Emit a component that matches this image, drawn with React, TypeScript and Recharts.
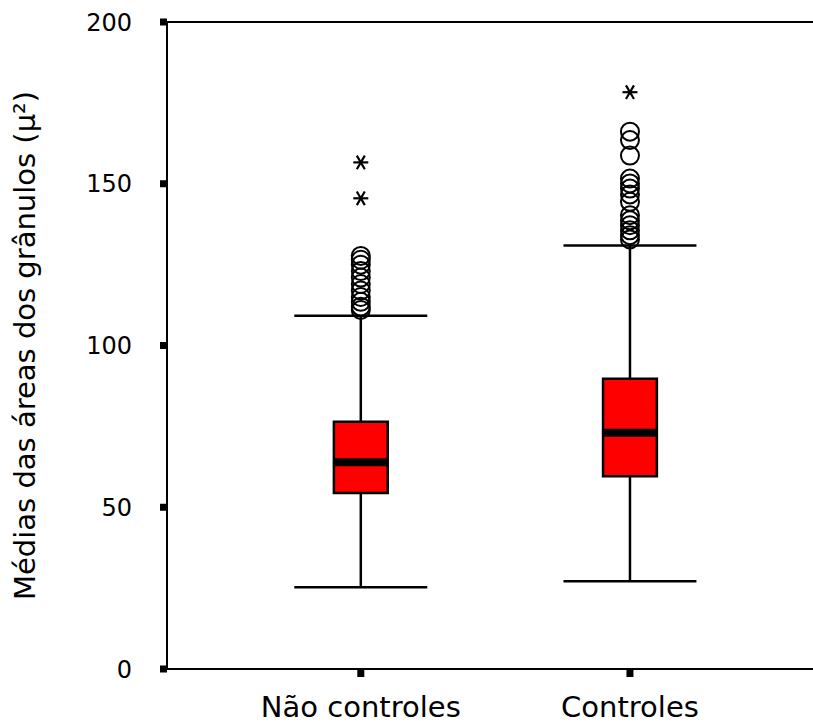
import {
  ComposedChart,
  ReferenceArea,
  ReferenceLine,
  Scatter,
  XAxis,
  YAxis,
} from "recharts";

const categories = ["Não controles", "Controles"];
const positions = [1, 2];
const lowerWhisker = [25.3, 27.1];
const q1 = [54.4, 59.6];
const median = [63.9, 73.0];
const q3 = [76.4, 89.7];
const upperWhisker = [109.2, 130.9];
const outliersNao = [111, 112, 113.5, 115, 117, 119, 121, 123, 125, 126.5, 127.7];
const extremesNao = [145.5, 156.6];
const outliersCtrl = [132.8, 134.1, 135.6, 137.2, 138.7, 140.3, 144.4, 146.7, 148.5, 150.1, 151.6, 158.7, 163.5, 166.1];
const extremesCtrl = [178.3];
const yTicks = [0, 50, 100, 150, 200];

const FONT = "'DejaVu Sans', Verdana, sans-serif";
const BOX_HALF = 0.1;
const CAP_HALF = 0.247;

const circlePoints = [
  ...outliersNao.map((y) => ({ x: positions[0], y })),
  ...outliersCtrl.map((y) => ({ x: positions[1], y })),
];
const starPoints = [
  ...extremesNao.map((y) => ({ x: positions[0], y })),
  ...extremesCtrl.map((y) => ({ x: positions[1], y })),
];

const OpenCircle = (p: any) => (
  <circle cx={p.cx} cy={p.cy} r={9} fill="none" stroke="#000" strokeWidth={2} />
);

const Star = (p: any) => (
  <g stroke="#000" strokeWidth={2.2}>
    <line x1={p.cx - 7.5} y1={p.cy} x2={p.cx + 7.5} y2={p.cy} />
    <line x1={p.cx - 4} y1={p.cy - 6.8} x2={p.cx + 4} y2={p.cy + 6.8} />
    <line x1={p.cx + 4} y1={p.cy - 6.8} x2={p.cx - 4} y2={p.cy + 6.8} />
  </g>
);

const YTick = ({ x, y, payload }: any) => (
  <g>
    <rect x={x + 28} y={y - 3.5} width={7} height={7} fill="#000" />
    <text x={x} y={y + 8.5} textAnchor="end" fontSize={24} fontFamily={FONT} fill="#000">
      {payload.value}
    </text>
  </g>
);

const XTick = ({ x, y, payload }: any) => {
  const i = positions.indexOf(payload.value);
  return (
    <g>
      <rect x={x - 3.5} y={y + 1} width={7} height={7} fill="#000" />
      <text x={x} y={y + 48} textAnchor="middle" fontSize={29} fontFamily={FONT} fill="#000">
        {categories[i]}
      </text>
    </g>
  );
};

export default function App() {
  return (
    <div style={{ position: "absolute", left: 0, top: 0, background: "#fff" }}>
      <ComposedChart
        width={813}
        height={724}
        margin={{ top: 22, right: 0, bottom: 0, left: 0 }}
      >
        <XAxis
          type="number"
          dataKey="x"
          domain={[0.28, 2.68]}
          ticks={positions}
          allowDataOverflow
          height={55}
          tickSize={0}
          tickMargin={0}
          tick={<XTick />}
          axisLine={{ stroke: "#000", strokeWidth: 2 }}
          tickLine={false}
        />
        <YAxis
          type="number"
          dataKey="y"
          domain={[0, 200]}
          ticks={yTicks}
          width={167}
          tickSize={0}
          tickMargin={35}
          tick={<YTick />}
          axisLine={{ stroke: "#000", strokeWidth: 2 }}
          tickLine={false}
          label={{
            content: ({ viewBox }: any) => {
              const cx = 25;
              const cy = viewBox.y + viewBox.height / 2;
              return (
                <text
                  x={cx}
                  y={cy}
                  transform={`rotate(-90, ${cx}, ${cy})`}
                  textAnchor="middle"
                  dominantBaseline="central"
                  fontSize={29}
                  fontFamily={FONT}
                  fill="#000"
                >
                  Médias das áreas dos grânulos (µ²)
                </text>
              );
            },
          }}
        />
        <ReferenceLine y={200} stroke="#000" strokeWidth={2} />
        {positions.map((p, i) => (
          <g key={`w${i}`}>
            <ReferenceLine
              segment={[{ x: p, y: lowerWhisker[i] }, { x: p, y: q1[i] }]}
              stroke="#000"
              strokeWidth={2.5}
            />
            <ReferenceLine
              segment={[{ x: p, y: q3[i] }, { x: p, y: upperWhisker[i] }]}
              stroke="#000"
              strokeWidth={2.5}
            />
            <ReferenceLine
              segment={[{ x: p - CAP_HALF, y: lowerWhisker[i] }, { x: p + CAP_HALF, y: lowerWhisker[i] }]}
              stroke="#000"
              strokeWidth={2.5}
            />
            <ReferenceLine
              segment={[{ x: p - CAP_HALF, y: upperWhisker[i] }, { x: p + CAP_HALF, y: upperWhisker[i] }]}
              stroke="#000"
              strokeWidth={2.5}
            />
          </g>
        ))}
        {positions.map((p, i) => (
          <ReferenceArea
            key={`b${i}`}
            x1={p - BOX_HALF}
            x2={p + BOX_HALF}
            y1={q1[i]}
            y2={q3[i]}
            fill="#ff0000"
            fillOpacity={1}
            stroke="#000"
            strokeWidth={2.5}
          />
        ))}
        {positions.map((p, i) => (
          <ReferenceLine
            key={`m${i}`}
            segment={[{ x: p - BOX_HALF, y: median[i] }, { x: p + BOX_HALF, y: median[i] }]}
            stroke="#000"
            strokeWidth={8}
          />
        ))}
        <Scatter data={circlePoints} shape={<OpenCircle />} isAnimationActive={false} />
        <Scatter data={starPoints} shape={<Star />} isAnimationActive={false} />
      </ComposedChart>
    </div>
  );
}
